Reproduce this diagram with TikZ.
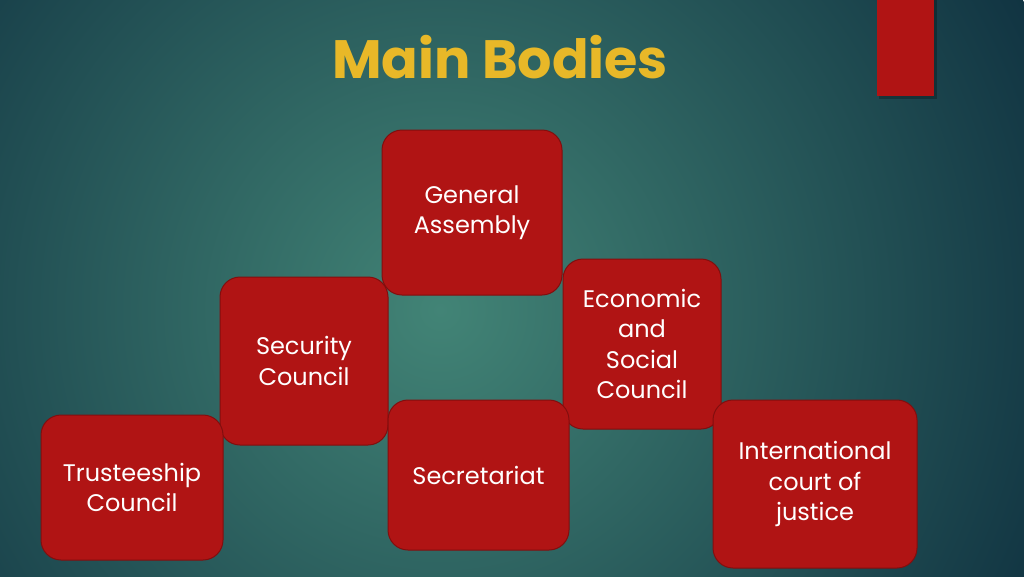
\documentclass[tikz,border=0pt]{standalone}
\usepackage{fontspec}
\setmainfont{Poppins}
\definecolor{bgin}{RGB}{66,132,118}
\definecolor{bgout}{RGB}{17,52,66}
\definecolor{boxred}{RGB}{176,20,20}
\definecolor{boxedge}{RGB}{130,14,14}
\definecolor{titlegold}{RGB}{232,184,40}
\tikzset{
  body/.style={draw=boxedge, line width=1pt, fill=boxred, rounded corners=20pt,
    text=white, align=center, font=\fontsize{24}{30.5}\selectfont, inner sep=0pt}
}
\begin{document}
\begin{tikzpicture}[x=1pt,y=-1pt]
\useasboundingbox (0,0) rectangle (1024,576);
\begin{scope}
  \clip (0,0) rectangle (1024,576);
  \shade[inner color=bgin, outer color=bgout] (440,310) circle (660);
\end{scope}
% top-right bar with shadow
\fill[black, opacity=0.25] (879,0) rectangle (937,99);
\fill[boxred] (877,0) rectangle (934,96);
% title
\node[text=titlegold, font=\fontsize{54}{64}\selectfont\bfseries, anchor=base] (title) at (500,78) {Main Bodies};
% boxes
\node[body, minimum width=180pt, minimum height=165pt] (ga) at (472,212.5) {General\\Assembly};
\node[body, minimum width=168pt, minimum height=168pt] (sc) at (304,361) {Security\\Council};
\node[body, minimum width=158pt, minimum height=170pt] (ec) at (642,344) {Economic\\and\\Social\\Council};
\node[body, minimum width=182pt, minimum height=145pt] (tc) at (132,487.5) {Trusteeship\\Council};
\node[body, minimum width=181pt, minimum height=150pt] (se) at (478.5,475) {Secretariat};
\node[body, minimum width=204pt, minimum height=168pt] (ic) at (815,484) {International\\court of\\justice};
\end{tikzpicture}
\end{document}
